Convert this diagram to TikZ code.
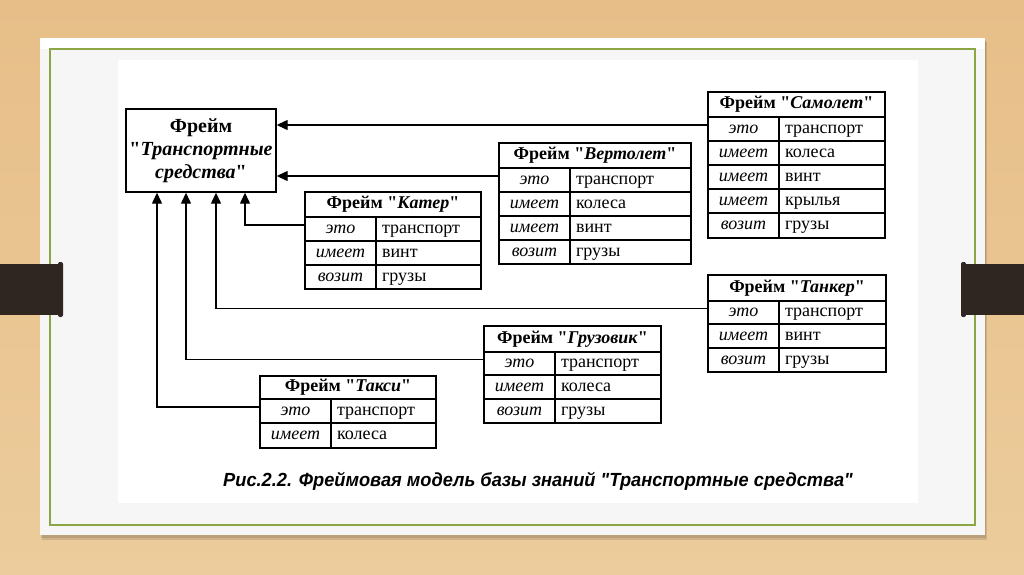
\documentclass[tikz,border=0pt]{standalone}
\usepackage{fontspec}
\setmainfont{Liberation Serif}[Ligatures=TeXOff]
\newfontfamily\capfont{Liberation Sans}
\usetikzlibrary{arrows.meta}
\definecolor{bgtop}{RGB}{231,190,136}
\definecolor{bgmid}{RGB}{240,214,172}
\definecolor{bgbot}{RGB}{236,204,156}
\definecolor{cardgray}{RGB}{246,246,246}
\definecolor{greenline}{RGB}{140,166,70}
\definecolor{barbrown}{RGB}{47,38,34}
\tikzset{
  tbl/.style={draw, line width=1.4pt, inner sep=0pt, outer sep=0pt, minimum height=24pt,
    text height=12pt, text depth=4pt, font=\fontsize{18}{20}\selectfont},
  hdr/.style={tbl, minimum height=25pt, font=\fontsize{18}{20}\selectfont\bfseries, anchor=north west},
  lc/.style={tbl, minimum width=71pt, font=\fontsize{18}{20}\selectfont\itshape, anchor=north west},
  rc/.style={tbl, minimum width=#1, inner xsep=6pt, anchor=north west},
  arr/.style={line width=1.3pt, -{Triangle[length=11pt,width=10pt]}},
  mainbox/.style={draw, line width=1.4pt, minimum width=150pt, minimum height=83pt, align=center, inner sep=0pt},
  bar/.style={fill=barbrown},
}
\newcommand{\rt}[2]{\makebox[#1][l]{#2}}
\begin{document}
\begin{tikzpicture}[x=1pt,y=-1pt]
\useasboundingbox (0,0) rectangle (1024,574);
% background
\shade[top color=bgtop, middle color=bgmid, bottom color=bgbot] (0,0) rectangle (1024,574);
% card with shadow
\fill[black, opacity=0.12] (42,42) rectangle (987,540);
\fill[black, opacity=0.10] (41,40) rectangle (986,538);
\fill[cardgray] (40,38) rectangle (985,535);
\fill[white] (40,38) rectangle (985,49);
\draw[greenline, line width=1.2pt] (50,49) rectangle (975,525);
\fill[white] (118,60) rectangle (918,503);
% side bars
\fill[bar] (0,264) rectangle (60,315);
\fill[bar, rounded corners=2pt] (58,262) rectangle (63,317);
\fill[bar] (964,264) rectangle (1024,315);
\fill[bar, rounded corners=2pt] (961,262) rectangle (966,317);

% main frame
\node[mainbox, font=\fontsize{20}{23}\selectfont] (main) at (201,150.5)
  {\textbf{Фрейм}\\\textbf{"\textit{Транспортные}}\\\textbf{\textit{средства}"}};

% Самолет
\node[hdr, minimum width=177pt] (sam) at (708,92) {Фрейм "\textit{Самолет}"};
\node[lc] (sam-1l) at (sam.south west) {это};
\node[rc=106pt] (sam-1r) at (sam-1l.north east) {\rt{94pt}{транспорт}};
\node[lc] (sam-2l) at (sam-1l.south west) {имеет};
\node[rc=106pt] (sam-2r) at (sam-2l.north east) {\rt{94pt}{колеса}};
\node[lc] (sam-3l) at (sam-2l.south west) {имеет};
\node[rc=106pt] (sam-3r) at (sam-3l.north east) {\rt{94pt}{винт}};
\node[lc] (sam-4l) at (sam-3l.south west) {имеет};
\node[rc=106pt] (sam-4r) at (sam-4l.north east) {\rt{94pt}{крылья}};
\node[lc, minimum height=25pt] (sam-5l) at (sam-4l.south west) {возит};
\node[rc=106pt, minimum height=25pt] (sam-5r) at (sam-5l.north east) {\rt{94pt}{грузы}};

% Вертолет
\node[hdr, minimum width=192pt] (ver) at (499,143) {Фрейм "\textit{Вертолет}"};
\node[lc] (ver-1l) at (ver.south west) {это};
\node[rc=121pt] (ver-1r) at (ver-1l.north east) {\rt{109pt}{транспорт}};
\node[lc] (ver-2l) at (ver-1l.south west) {имеет};
\node[rc=121pt] (ver-2r) at (ver-2l.north east) {\rt{109pt}{колеса}};
\node[lc] (ver-3l) at (ver-2l.south west) {имеет};
\node[rc=121pt] (ver-3r) at (ver-3l.north east) {\rt{109pt}{винт}};
\node[lc] (ver-4l) at (ver-3l.south west) {возит};
\node[rc=121pt] (ver-4r) at (ver-4l.north east) {\rt{109pt}{грузы}};

% Катер
\node[hdr, minimum width=176pt] (kat) at (305,192) {Фрейм "\textit{Катер}"};
\node[lc] (kat-1l) at (kat.south west) {это};
\node[rc=105pt] (kat-1r) at (kat-1l.north east) {\rt{93pt}{транспорт}};
\node[lc] (kat-2l) at (kat-1l.south west) {имеет};
\node[rc=105pt] (kat-2r) at (kat-2l.north east) {\rt{93pt}{винт}};
\node[lc] (kat-3l) at (kat-2l.south west) {возит};
\node[rc=105pt] (kat-3r) at (kat-3l.north east) {\rt{93pt}{грузы}};

% Танкер
\node[hdr, minimum width=178pt, minimum height=26pt] (tan) at (708,275) {Фрейм "\textit{Танкер}"};
\node[lc, minimum height=23pt] (tan-1l) at (tan.south west) {это};
\node[rc=107pt, minimum height=23pt] (tan-1r) at (tan-1l.north east) {\rt{95pt}{транспорт}};
\node[lc] (tan-2l) at (tan-1l.south west) {имеет};
\node[rc=107pt] (tan-2r) at (tan-2l.north east) {\rt{95pt}{винт}};
\node[lc] (tan-3l) at (tan-2l.south west) {возит};
\node[rc=107pt] (tan-3r) at (tan-3l.north east) {\rt{95pt}{грузы}};

% Грузовик
\node[hdr, minimum width=177pt, minimum height=26pt] (gru) at (484,326) {Фрейм "\textit{Грузовик}"};
\node[lc, minimum height=23pt] (gru-1l) at (gru.south west) {это};
\node[rc=106pt, minimum height=23pt] (gru-1r) at (gru-1l.north east) {\rt{94pt}{транспорт}};
\node[lc] (gru-2l) at (gru-1l.south west) {имеет};
\node[rc=106pt] (gru-2r) at (gru-2l.north east) {\rt{94pt}{колеса}};
\node[lc] (gru-3l) at (gru-2l.south west) {возит};
\node[rc=106pt] (gru-3r) at (gru-3l.north east) {\rt{94pt}{грузы}};

% Такси
\node[hdr, minimum width=176pt, minimum height=23pt] (tak) at (260,376) {Фрейм "\textit{Такси}"};
\node[lc] (tak-1l) at (tak.south west) {это};
\node[rc=105pt] (tak-1r) at (tak-1l.north east) {\rt{93pt}{транспорт}};
\node[lc, minimum height=25pt] (tak-2l) at (tak-1l.south west) {имеет};
\node[rc=105pt, minimum height=25pt] (tak-2r) at (tak-2l.north east) {\rt{93pt}{колеса}};

% connectors
\coordinate (c1) at ([yshift=4pt]sam-1l.west);
\coordinate (c2) at ([yshift=4pt]ver-1l.west);
\coordinate (c3) at ([yshift=4pt]kat-1l.west);
\coordinate (c4) at ([yshift=4pt]tan-1l.west);
\coordinate (c5) at ([yshift=4pt]gru-1l.west);
\coordinate (c6) at ([yshift=4pt]tak-1l.west);
\coordinate (m1) at ([xshift=-44pt]main.south);
\coordinate (m2) at ([xshift=-15pt]main.south);
\coordinate (m3) at ([xshift=15pt]main.south);
\coordinate (m4) at ([xshift=44pt]main.south);
\draw[arr] (c1) -- (main.east |- c1);
\draw[arr] (c2) -- (main.east |- c2);
\draw[arr] (c3) -| (m4);
\draw[arr] (c4) -| (m3);
\draw[arr] (c5) -| (m2);
\draw[arr] (c6) -| (m1);

% caption
\node[font=\capfont\bfseries\itshape\fontsize{19}{22}\selectfont] (cap) at (538,481)
  {\scalebox{0.96}[1]{Рис.2.2. Фреймовая модель базы знаний "Транспортные средства"}};
\end{tikzpicture}
\end{document}
